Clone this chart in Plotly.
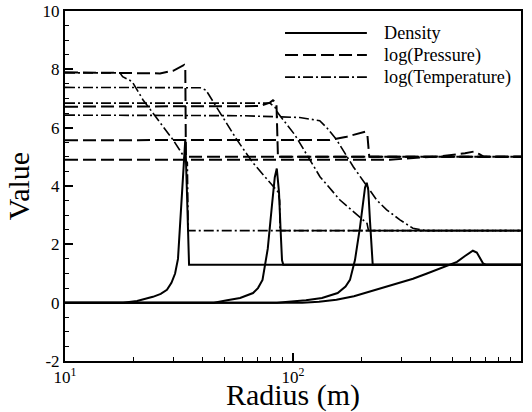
import plotly.graph_objects as go

# ---------------- data ----------------
# Density (solid), four snapshots
r_dens_1 = [10, 18.0, 20.7, 24.3, 26.3, 28.0, 29.3, 30.4, 31.3, 31.9, 32.6, 33.2, 33.7, 34.2, 34.6, 35.0, 1000]
dens_1 = [0, 0, 0.06, 0.2, 0.3, 0.44, 0.68, 1.0, 1.5, 2.5, 3.8, 5.0, 5.6, 4.0, 2.0, 1.3, 1.3]
r_dens_2 = [10, 45, 51.4, 58.6, 66.8, 70.2, 73.5, 77.5, 81.0, 83.2, 84.9, 86.8, 88.1, 89.5, 90.7, 1000]
dens_2 = [0, 0, 0.08, 0.16, 0.33, 0.5, 0.78, 1.85, 3.4, 4.3, 4.6, 3.8, 2.6, 1.45, 1.3, 1.3]
r_dens_3 = [10, 85, 114, 134, 157, 170, 177.8, 187, 196.8, 202.9, 207, 210.6, 213.9, 217.6, 221.3, 223.7, 1000]
dens_3 = [0, 0, 0.08, 0.16, 0.33, 0.55, 0.78, 1.46, 2.6, 3.5, 3.95, 4.11, 3.86, 2.8, 1.7, 1.3, 1.3]
r_dens_4 = [10, 110, 130, 155, 185, 215, 255, 295, 336, 387, 441, 524, 568, 615, 640, 660, 681, 700, 1000]
dens_4 = [0, 0, 0.03, 0.1, 0.22, 0.37, 0.55, 0.7, 0.82, 1.0, 1.17, 1.4, 1.6, 1.78, 1.72, 1.55, 1.35, 1.3, 1.3]

# log(Pressure) (dashed)
r_pres_1 = [10, 23.6, 26.1, 29.8, 32.6, 33.3, 33.7, 33.9, 1000]
pres_1 = [7.9, 7.88, 7.86, 7.95, 8.09, 8.15, 8.0, 5.0, 5.0]
r_pres_2 = [10, 62.9, 71.6, 79.2, 81.7, 84.6, 85.9, 1000]
pres_2 = [6.72, 6.72, 6.74, 6.86, 6.94, 6.85, 5.0, 5.0]
r_pres_3 = [10, 145, 172, 207, 212, 216, 1000]
pres_3 = [5.57, 5.58, 5.69, 5.86, 5.75, 5.0, 5.0]
r_pres_4 = [10, 266, 326, 441, 568, 621, 654, 688, 1000]
pres_4 = [4.9, 4.9, 4.95, 5.02, 5.12, 5.18, 5.1, 5.0, 5.0]

# log(Temperature) (dash-dot)
r_temp_1 = [10, 17.4, 17.9, 19.7, 22.0, 26.1, 29.8, 32.9, 34.4, 34.7, 1000]
temp_1 = [7.88, 7.88, 7.75, 7.58, 6.95, 6.16, 5.58, 5.06, 4.8, 2.47, 2.47]
r_temp_2 = [10, 39.1, 41.5, 44.2, 56.8, 66.8, 79.2, 85.9, 87.4, 87.7, 1000]
temp_2 = [7.38, 7.37, 7.29, 6.95, 5.58, 4.79, 4.1, 3.8, 3.5, 2.47, 2.47]
r_temp_3 = [10, 79.2, 83.4, 85.9, 102, 115, 131.3, 160.7, 196.8, 211.2, 214.4, 1000]
temp_3 = [6.84, 6.84, 6.7, 6.5, 5.75, 5.05, 4.32, 3.52, 2.95, 2.72, 2.47, 2.47]
r_temp_4 = [10, 60, 107, 131, 141, 155.5, 183.8, 211, 232.8, 257.6, 294.5, 335.7, 385, 1000]
temp_4 = [6.43, 6.41, 6.35, 6.24, 5.99, 5.58, 4.66, 3.98, 3.52, 3.18, 2.84, 2.55, 2.47, 2.47]

x_tickvals = [10, 100, 1000]
x_ticktext = ["10<sup>1</sup>", "10<sup>2</sup>", "10<sup>3</sup>"]
y_tickvals = [-2, 0, 2, 4, 6, 8, 10]
y_ticktext = ["-2", "0", "2", "4", "6", "8", "10"]

legend_names = ["Density", "log(Pressure)", "log(Temperature)"]

# ---------------- styles ----------------
FONT = "Liberation Serif"
DASH_P = "13px,5px"
DASH_T = "10px,3px,2px,3px"
styles = [dict(color="black", width=2, dash="solid"),
          dict(color="black", width=2, dash=DASH_P),
          dict(color="black", width=1.6, dash=DASH_T)]

fig = go.Figure()
groups = [
    [(r_dens_1, dens_1), (r_dens_2, dens_2), (r_dens_3, dens_3), (r_dens_4, dens_4)],
    [(r_pres_1, pres_1), (r_pres_2, pres_2), (r_pres_3, pres_3), (r_pres_4, pres_4)],
    [(r_temp_1, temp_1), (r_temp_2, temp_2), (r_temp_3, temp_3), (r_temp_4, temp_4)],
]
for gi, grp in enumerate(groups):
    for (rr, vv) in grp:
        fig.add_trace(go.Scatter(x=rr, y=vv, mode="lines", line=styles[gi],
                                 showlegend=False, hoverinfo="skip"))

# manual legend (line samples + labels), paper coordinates
leg_y = [0.937, 0.874, 0.811]
for i, name in enumerate(legend_names):
    fig.add_shape(type="line", xref="paper", yref="paper",
                  x0=0.4825, x1=0.662, y0=leg_y[i], y1=leg_y[i], line=styles[i])
    fig.add_annotation(xref="paper", yref="paper", x=0.695, y=leg_y[i],
                       text=name, showarrow=False, xanchor="left", yanchor="middle",
                       font=dict(family=FONT, size=18.2, color="black"))

axis_common = dict(showline=True, linecolor="black", linewidth=2, mirror=True,
                   ticks="inside", ticklen=8, tickwidth=1.5, tickcolor="black",
                   showgrid=False, zeroline=False,
                   tickfont=dict(family=FONT, size=17, color="black"))

fig.update_xaxes(type="log", range=[1, 3], tickvals=x_tickvals, ticktext=x_ticktext,
                 minor=dict(ticks="inside", ticklen=4, tickwidth=1, tickcolor="black",
                            dtick="D1", showgrid=False),
                 title=dict(text="Radius (m)", font=dict(family=FONT, size=30, color="black"),
                            standoff=2),
                 automargin=False, **axis_common)
fig.update_yaxes(range=[-2, 10], tickvals=y_tickvals, ticktext=y_ticktext,
                 minor=dict(ticks="inside", ticklen=4, tickwidth=1, tickcolor="black",
                            dtick=0.5, tick0=0, showgrid=False),
                 title=dict(text="Value", font=dict(family=FONT, size=30, color="black"),
                            standoff=4),
                 automargin=False, **axis_common)

fig.update_layout(width=532, height=412,
                  margin=dict(l=65, r=11, t=11, b=51),
                  paper_bgcolor="white", plot_bgcolor="white",
                  font=dict(family=FONT, color="black"))

fig.write_html("out.html")
